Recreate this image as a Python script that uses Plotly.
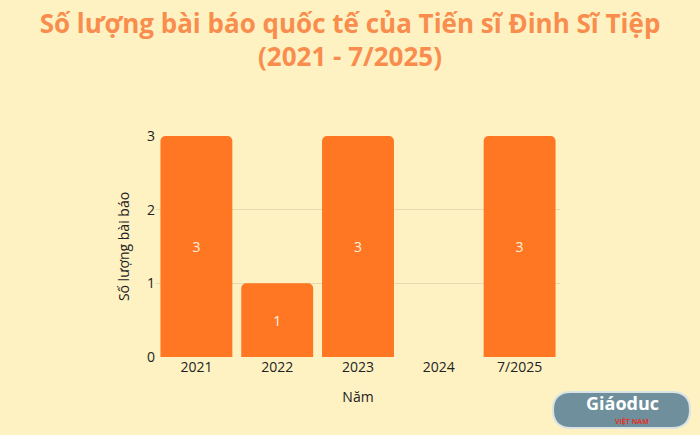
import plotly.graph_objects as go

years = ["2021", "2022", "2023", "2024", "7/2025"]
counts = [3, 1, 3, 0, 3]
bar_text = ["3", "1", "3", "", "3"]
y_ticks = [0, 1, 2, 3]

title_text = "Số lượng bài báo quốc tế của Tiến sĩ Đinh Sĩ Tiệp<br>(2021 - 7/2025)"
y_title = "Số lượng bài báo"
x_title = "Năm"

BG = "#FEF2C3"
BAR = "#FF7722"
TITLE = "#F98D4E"

L, R, T, B = 156, 140, 136, 78
W, H = 700, 435
PW, PH = W - L - R, H - T - B


def px(x):
    return (x - L) / PW


def py(y):
    return (H - B - y) / PH


def pill(x0, y0, x1, y1):
    r = (y1 - y0) / 2
    pts = [
        f"M {px(x0 + r)},{py(y0)}",
        f"L {px(x1 - r)},{py(y0)}",
        f"Q {px(x1)},{py(y0)} {px(x1)},{py(y0 + r)}",
        f"Q {px(x1)},{py(y1)} {px(x1 - r)},{py(y1)}",
        f"L {px(x0 + r)},{py(y1)}",
        f"Q {px(x0)},{py(y1)} {px(x0)},{py(y0 + r)}",
        f"Q {px(x0)},{py(y0)} {px(x0 + r)},{py(y0)}",
        "Z",
    ]
    return " ".join(pts)


fig = go.Figure(go.Bar(
    x=years, y=counts, text=bar_text, textposition="inside",
    insidetextanchor="middle",
    textfont=dict(color="#FFF2E0", size=14, family="Open Sans"),
    marker=dict(color=BAR, line=dict(width=0), cornerradius=5),
    hoverinfo="skip",
))

fig.update_layout(
    width=W, height=H,
    paper_bgcolor=BG, plot_bgcolor=BG,
    margin=dict(l=L, r=R, t=T, b=B),
    bargap=0.11,
    showlegend=False,
    font=dict(family="Open Sans", color="#222222", size=14),
    title=dict(text=title_text, x=0.5, xanchor="center", y=0.925, yanchor="top",
               font=dict(family="Open Sans", size=26, color=TITLE, weight="bold")),
    xaxis=dict(title=dict(text=x_title, font=dict(size=14), standoff=17),
               showgrid=False, zeroline=False, showline=False, ticks="",
               tickfont=dict(size=14)),
    yaxis=dict(title=dict(text=y_title, font=dict(size=14), standoff=14),
               range=[0, 3], tickvals=y_ticks, showgrid=True,
               gridcolor="#E6D9AE", gridwidth=1, zeroline=False,
               showline=False, ticks="", tickfont=dict(size=14)),
)

# watermark logo (approximation)
fig.add_shape(type="path", xref="paper", yref="paper",
              path=pill(553, 392, 690, 428),
              fillcolor="#6E8F9B", line=dict(color="#D9E2E4", width=2),
              layer="above")
fig.add_annotation(xref="paper", yref="paper", x=px(622), y=py(403),
                   xanchor="center", yanchor="middle",
                   text="<b>Giáoduc</b>", showarrow=False,
                   font=dict(family="Open Sans", size=18, color="#FFFFFF"))
fig.add_annotation(xref="paper", yref="paper", x=px(632), y=py(421),
                   xanchor="center", yanchor="middle",
                   text="<b>VIỆT NAM</b>", showarrow=False,
                   font=dict(family="Open Sans", size=7, color="#E0342A"))

fig.write_html("out.html", config={"displayModeBar": False},
               post_script="document.body.style.margin='0';document.body.style.overflow='hidden';window.scrollTo(0,0);")
